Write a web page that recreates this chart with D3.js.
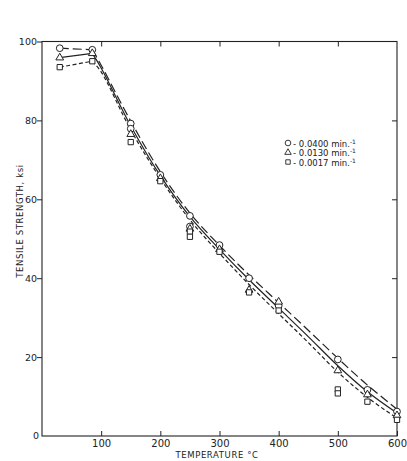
<!DOCTYPE html>
<html>
<head>
<meta charset="utf-8">
<script src="https://cdn.jsdelivr.net/npm/d3@7"></script>
<style>
	body { margin: 0; background: #fff; }
	svg text { font-family: "DejaVu Sans", sans-serif; fill: #222; }
</style>
</head>
<body>
<div id="chart"></div>
<script>
//tick values
var xTicks = [100, 200, 300, 400, 500, 600],
	yTicks = [0, 20, 40, 60, 80, 100];

//series names (strain rates)
var seriesNames = ["0.0400", "0.0130", "0.0017"];

//measured points [temperature, strength]
var circlePts = [[30, 98.3], [85, 97.9], [150, 79.2], [150, 77.9], [200, 66.2], [250, 55.8], [250, 53.1],
	[300, 48.4], [350, 40.0], [400, 33.0], [500, 19.4], [550, 11.7], [600, 6.2]];
var trianglePts = [[30, 95.9], [85, 97.0], [150, 76.5], [200, 65.3], [250, 52.5], [300, 47.3],
	[350, 37.0], [400, 34.0], [500, 16.6], [550, 10.5], [600, 5.2]];
var squarePts = [[30, 93.5], [85, 95.0], [150, 74.5], [200, 64.6], [250, 51.8], [250, 50.5],
	[300, 46.7], [350, 36.4], [400, 31.8], [500, 11.8], [500, 10.8], [550, 8.7], [600, 4.1]];

//low temperature segments (joined straight)
var circleLow = [[30, 98.3], [85, 97.9]],
	triangleLow = [[30, 95.9], [85, 97.0]],
	squareLow = [[30, 93.5], [85, 95.0]];

//fitted curves
var circleFit = [[85, 97.9], [100, 94.0], [150, 79.8], [200, 67.0], [250, 56.5], [300, 48.3], [350, 40.8],
	[400, 33.8], [450, 26.8], [500, 19.7], [550, 12.9], [600, 6.8]];
var triangleFit = [[85, 97.0], [100, 93.3], [150, 78.6], [200, 66.0], [250, 55.6], [300, 47.3], [350, 39.6],
	[400, 32.4], [450, 25.2], [500, 17.8], [550, 11.2], [600, 5.8]];
var squareFit = [[85, 95.0], [100, 92.3], [150, 77.6], [200, 65.3], [250, 54.8], [300, 46.3], [350, 38.4],
	[400, 31.0], [450, 23.7], [500, 16.2], [550, 9.8], [600, 4.5]];

var width = 407,
	height = 461,
	plotLeft = 42,
	plotRight = 397,
	plotTop = 41.5,
	plotBottom = 436;

var x = d3.scaleLinear().domain([0, 600]).range([plotLeft, plotRight]);
var y = d3.scaleLinear().domain([0, 100]).range([plotBottom, plotTop]);

var svg = d3.select("#chart")
	.append("svg")
	.attr("width", width)
	.attr("height", height);

var ink = "#222";

//frame
svg.append("rect")
	.attr("x", plotLeft)
	.attr("y", plotTop)
	.attr("width", plotRight - plotLeft)
	.attr("height", plotBottom - plotTop)
	.attr("fill", "none")
	.attr("stroke", ink)
	.attr("stroke-width", 1.1);

//bottom axis, ticks inward
var xAxis = svg.append("g")
	.attr("transform", "translate(0," + plotBottom + ")")
	.call(d3.axisBottom(x).tickValues(xTicks).tickSizeInner(-5).tickSizeOuter(0).tickPadding(4));
xAxis.select(".domain").remove();
xAxis.selectAll("line").attr("stroke", ink);
xAxis.selectAll("text").style("font-size", "10px");

//top ticks
var xTop = svg.append("g")
	.attr("transform", "translate(0," + plotTop + ")")
	.call(d3.axisTop(x).tickValues(xTicks.slice(0, 5)).tickSizeInner(-5).tickSizeOuter(0).tickFormat(""));
xTop.select(".domain").remove();
xTop.selectAll("line").attr("stroke", ink);

//left axis, ticks outward
var yAxis = svg.append("g")
	.attr("transform", "translate(" + plotLeft + ",0)")
	.call(d3.axisLeft(y).tickValues(yTicks.slice(1)).tickSizeInner(5).tickSizeOuter(0).tickPadding(0));
yAxis.select(".domain").remove();
yAxis.selectAll("line").attr("stroke", ink);
yAxis.selectAll("text").style("font-size", "9.5px");

//zero label at origin
svg.append("text")
	.attr("x", plotLeft - 3)
	.attr("y", plotBottom + 3)
	.attr("text-anchor", "end")
	.style("font-size", "9.5px")
	.text(yTicks[0]);

//right ticks inward
var yRight = svg.append("g")
	.attr("transform", "translate(" + plotRight + ",0)")
	.call(d3.axisRight(y).tickValues(yTicks.slice(1, 5)).tickSizeInner(-5).tickSizeOuter(0).tickFormat(""));
yRight.select(".domain").remove();
yRight.selectAll("line").attr("stroke", ink);

//axis titles
svg.append("text")
	.attr("x", 217)
	.attr("y", 458)
	.attr("text-anchor", "middle")
	.style("font-size", "8.5px")
	.style("letter-spacing", "0.6px")
	.text("TEMPERATURE °C");

svg.append("text")
	.attr("transform", "translate(23,221) rotate(-90)")
	.attr("text-anchor", "middle")
	.style("font-size", "8.5px")
	.style("letter-spacing", "0.6px")
	.text("TENSILE STRENGTH, ksi");

//lines
var straight = d3.line()
	.x(function(d) { return x(d[0]); })
	.y(function(d) { return y(d[1]); });
var smooth = d3.line()
	.x(function(d) { return x(d[0]); })
	.y(function(d) { return y(d[1]); })
	.curve(d3.curveCatmullRom);

var series = [
	{ low: circleLow, fit: circleFit, pts: circlePts, dash: "9,4", sym: d3.symbolCircle },
	{ low: triangleLow, fit: triangleFit, pts: trianglePts, dash: null, sym: d3.symbolTriangle },
	{ low: squareLow, fit: squareFit, pts: squarePts, dash: "4,2.5", sym: d3.symbolSquare }
];

series.forEach(function(s) {
	svg.append("path")
		.attr("d", straight(s.low))
		.attr("fill", "none")
		.attr("stroke", ink)
		.attr("stroke-width", 1.2)
		.attr("stroke-dasharray", s.dash);
	svg.append("path")
		.attr("d", smooth(s.fit))
		.attr("fill", "none")
		.attr("stroke", ink)
		.attr("stroke-width", 1.2)
		.attr("stroke-dasharray", s.dash);
});

//markers
function symSize(sym) {
	if (sym == d3.symbolCircle) return 36;
	if (sym == d3.symbolSquare) return 28;
	return 26;
}
series.forEach(function(s) {
	svg.selectAll(null)
		.data(s.pts)
		.enter()
		.append("path")
		.attr("d", d3.symbol().type(s.sym).size(symSize(s.sym)))
		.attr("transform", function(d) { return "translate(" + x(d[0]) + "," + y(d[1]) + ")"; })
		.attr("fill", "#fff")
		.attr("stroke", ink)
		.attr("stroke-width", 1);
});

//legend
var legend = svg.append("g").attr("transform", "translate(288,143)");
series.forEach(function(s, i) {
	var row = legend.append("g").attr("transform", "translate(0," + (i * 9.5) + ")");
	row.append("path")
		.attr("d", d3.symbol().type(s.sym).size(symSize(s.sym) * 0.7))
		.attr("fill", "#fff")
		.attr("stroke", ink)
		.attr("stroke-width", 0.9);
	var t = row.append("text")
		.attr("x", 5)
		.attr("y", 3.5)
		.style("font-size", "8.5px")
		.text("- " + seriesNames[i] + "  min.");
	t.append("tspan")
		.attr("dy", -3)
		.style("font-size", "6px")
		.text("-1");
});
</script>
</body>
</html>
